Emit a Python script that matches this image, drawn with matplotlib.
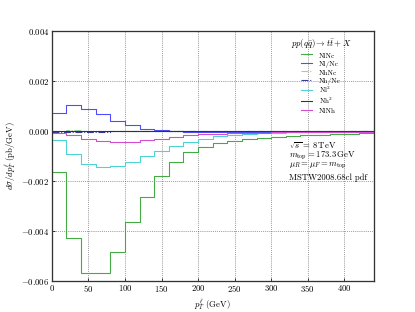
import numpy as np
import matplotlib
matplotlib.use("Agg")
import matplotlib.pyplot as plt
from matplotlib.ticker import FuncFormatter, MultipleLocator

plt.rcParams.update({
    "font.family": "serif",
    "font.serif": ["cmr10", "DejaVu Serif"],
    "mathtext.fontset": "cm",
    "axes.formatter.use_mathtext": True,
    "font.size": 12,
})

edges = np.arange(0, 441, 20)

NlNc = [-0.00164, -0.0043, -0.00567, -0.00567, -0.00486, -0.00365, -0.00264, -0.0018,
        -0.00124, -0.00085, -0.00063, -0.00049, -0.0004, -0.00033, -0.00029, -0.00024,
        -0.0002, -0.00016, -0.00014, -0.00011, -0.0001, -0.00008]
Nl_Nc = [0.00072, 0.00106, 0.0009, 0.00067, 0.00041, 0.00025, 0.0001, 0.00003,
         -0.00001, -0.00003, -0.00004, -0.00004, -0.00004, -0.00004, -0.00003, -0.00003,
         -0.00003, -0.00002, -0.00002, -0.00002, -0.00002, -0.00001]
NhNc = [0.00002, 0.00003, 0.00002, 0.00001, 0.00001, 0.0, 0.0, 0.0, 0.0, 0.0, 0.0,
        0.0, 0.0, 0.0, 0.0, 0.0, 0.0, 0.0, 0.0, 0.0, 0.0, 0.0]
Nh_Nc = [-0.00002, -0.00002, -0.00002, -0.00002, -0.00001, -0.00001, -0.00001, -0.00001,
         -0.00001, -0.00001, -0.00001, -0.00001, -0.00001, -0.00001, -0.00001, -0.00001,
         -0.00001, -0.00001, -0.00001, -0.00001, -0.00001, -0.00001]
Nl2 = [-0.00035, -0.00093, -0.00133, -0.00144, -0.00141, -0.00126, -0.00101, -0.00081,
       -0.00061, -0.00044, -0.00031, -0.0002, -0.00014, -0.0001, -0.00008, -0.00006,
       -0.00005, -0.00004, -0.00004, -0.00003, -0.00003, -0.00002]
Nh2 = [0.0] * 22
NlNh = [-0.00008, -0.00017, -0.00032, -0.00039, -0.00043, -0.00043, -0.00037, -0.00032,
        -0.00024, -0.00017, -0.00013, -0.0001, -0.00008, -0.00007, -0.00006, -0.00005,
        -0.00005, -0.00004, -0.00004, -0.00003, -0.00003, -0.00003]

series = [
    (NlNc, "NlNc", "#44aa44", "-"),
    (Nl_Nc, "Nl/Nc", "#4d4dff", "-"),
    (NhNc, "NhNc", "#9ad49a", "-."),
    (Nh_Nc, "Nh/Nc", "#3a3a9a", "-."),
    (Nl2, "Nl$^2$", "#4dd3d3", "-"),
    (Nh2, "Nh$^2$", "#333333", "-"),
    (NlNh, "NlNh", "#d34dd3", "-"),
]

fig = plt.figure(figsize=(415 / 52, 312 / 52), dpi=52)
ax = fig.add_axes([0.125, 0.1, 0.775, 0.8])

for vals, lab, col, ls in series:
    y = list(vals) + [vals[-1]]
    ax.plot(edges, y, drawstyle="steps-post", color=col, linestyle=ls, lw=1.5, label=lab)

ax.set_xlim(0, 440)
ax.set_ylim(-0.006, 0.004)
ax.xaxis.set_major_locator(MultipleLocator(50))
ax.yaxis.set_major_locator(MultipleLocator(0.002))
ax.yaxis.set_major_formatter(FuncFormatter(lambda v, p: f"${v:.3f}$"))
ax.xaxis.set_major_formatter(FuncFormatter(lambda v, p: f"${v:.0f}$"))
ax.grid(True, linestyle=":", color="#555555", lw=1.0)
ax.tick_params(direction="in", length=4, width=1)
for s in ax.spines.values():
    s.set_linewidth(1.8)
    s.set_color("#333333")

ax.set_xlabel(r"$p_T^{\ell}$ (GeV)")
ax.set_ylabel(r"$d\sigma/dp_T^{\ell}$ (pb/GeV)")

leg = ax.legend(title=r"$pp(q\bar{q}) \to t\bar{t} + X$", loc="upper center",
                bbox_to_anchor=(0.837, 0.995), frameon=False, handlelength=1.5,
                handleheight=1.3, handletextpad=1.0, labelspacing=0.05, fontsize=10,
                title_fontsize=12, borderpad=0.2)

tx = 0.737
ax.text(tx, 0.542, r"$\sqrt{s}\,=\,8\,\mathrm{TeV}$", transform=ax.transAxes, va="center")
ax.text(tx, 0.502, r"$m_{\rm top} = 173.3\,\mathrm{GeV}$", transform=ax.transAxes, va="center")
ax.text(tx, 0.462, r"$\mu_R = \mu_F = m_{\rm top}$", transform=ax.transAxes, va="center")
ax.text(tx, 0.414, "MSTW2008.68cl pdf", transform=ax.transAxes, va="center")

fig.savefig("out.png", dpi=52)
